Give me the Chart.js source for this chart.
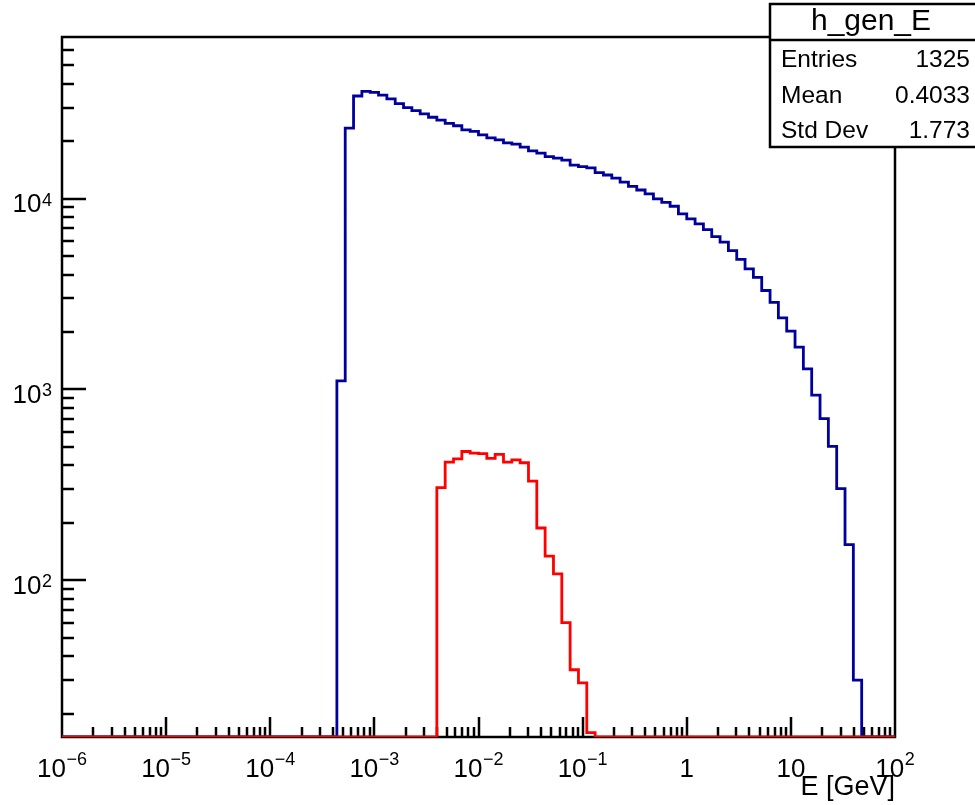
<!DOCTYPE html>
<html>
<head>
<meta charset="utf-8">
<script src="https://cdn.jsdelivr.net/npm/chart.js@4.4.1/dist/chart.umd.min.js"></script>
<style>
  html, body { margin: 0; padding: 0; background: #fff; }
  #wrap { width: 975px; height: 805px; }
</style>
</head>
<body>
<div id="wrap"><canvas id="histo" width="975" height="805"></canvas></div>
<script>
// histogram binning: 100 log bins from 1e-6 to 1e2 GeV
const nBins = 100;
const eMin = 1e-6;
const eMax = 1e2;

// bin contents (0 = empty bin)
const blueCounts = [
  0, 0, 0, 0, 0, 0, 0, 0, 0, 0,
  0, 0, 0, 0, 0, 0, 0, 0, 0, 0,
  0, 0, 0, 0, 0, 0, 0, 0, 0, 0,
  0, 0, 0, 1110, 23400, 34500, 36500, 36000, 34900, 33300,
  31500, 30000, 28900, 27800, 26700, 25800, 24800, 24100, 22900, 22500,
  21600, 20800, 20300, 19600, 19300, 18600, 17800, 17300, 16600, 16300,
  15900, 15000, 14700, 14500, 13700, 13300, 12800, 12200, 11600, 11100,
  10600, 9960, 9570, 9120, 8320, 7830, 7370, 6880, 6330, 5910,
  5340, 4800, 4290, 3870, 3300, 2860, 2370, 2020, 1665, 1283,
  935, 703, 503, 302, 154, 30, 0, 0, 0, 0
];
const redCounts = [
  0, 0, 0, 0, 0, 0, 0, 0, 0, 0,
  0, 0, 0, 0, 0, 0, 0, 0, 0, 0,
  0, 0, 0, 0, 0, 0, 0, 0, 0, 0,
  0, 0, 0, 0, 0, 0, 0, 0, 0, 0,
  0, 0, 0, 0, 0, 306, 416, 433, 473, 464,
  461, 435, 457, 416, 428, 413, 331, 188, 134, 108,
  60, 34, 29, 15.9, 0, 0, 0, 0, 0, 0,
  0, 0, 0, 0, 0, 0, 0, 0, 0, 0,
  0, 0, 0, 0, 0, 0, 0, 0, 0, 0,
  0, 0, 0, 0, 0, 0, 0, 0, 0, 0
];

// axis ranges and tick labels (base + exponent, ROOT style)
const yMin = 15.1;
const yMax = 70300;
const xTickValues = [1e-6, 1e-5, 1e-4, 1e-3, 1e-2, 1e-1, 1, 10, 100];
const xTickBase = ['10', '10', '10', '10', '10', '10', '1', '10', '10'];
const xTickExp = ['\u22126', '\u22125', '\u22124', '\u22123', '\u22122', '\u22121', '', '', '2'];
const yTickValues = [100, 1000, 10000];
const yTickBase = ['10', '10', '10'];
const yTickExp = ['2', '3', '4'];

const statsTitle = 'h_gen_E';
const statsNames = ['Entries', 'Mean', 'Std Dev'];
const statsValues = ['1325', '0.4033', '1.773'];

const FONT = '"Liberation Sans", Arial, Helvetica, sans-serif';

// bin edges (log spaced)
const edges = [];
for (let k = 0; k <= nBins; k++) {
  edges.push(Math.pow(10, Math.log10(eMin) + k * (Math.log10(eMax) - Math.log10(eMin)) / nBins));
}

// step points, empty bins sit on the axis floor like ROOT draws them
function toSteps(counts) {
  return edges.map((e, i) => {
    const v = counts[Math.min(i, nBins - 1)];
    return { x: e, y: v > 0 ? v : yMin };
  });
}

function isDrawnTick(v) {
  const ex = Math.floor(Math.log10(v) + 1e-9);
  const m = v / Math.pow(10, ex);
  return Math.abs(m - Math.round(m)) < 1e-4 && Math.round(m) >= 1 && Math.round(m) <= 9;
}
function isDecade(v) {
  return Math.abs(Math.log10(v) - Math.round(Math.log10(v))) < 1e-6;
}

// "10" with a raised exponent
function drawPow(ctx, base, exp, left, baseY, expY) {
  ctx.font = '26px ' + FONT;
  ctx.fillText(base, left, baseY);
  const wb = ctx.measureText(base).width;
  if (exp) {
    ctx.font = '18px ' + FONT;
    ctx.fillText(exp, left + wb + 0.5, expY);
  }
}
function powWidth(ctx, base, exp) {
  ctx.font = '26px ' + FONT;
  let w = ctx.measureText(base).width;
  if (exp) {
    ctx.font = '18px ' + FONT;
    w += ctx.measureText(exp).width + 0.5;
  }
  return w;
}

Chart.defaults.font.family = FONT;
Chart.defaults.color = '#000';

const rootFrame = {
  id: 'rootFrame',
  beforeDatasetsDraw(chart) {
    const ctx = chart.ctx;
    const a = chart.chartArea;
    const xs = chart.scales.x;
    const ys = chart.scales.y;
    ctx.save();
    ctx.strokeStyle = '#000';
    ctx.lineWidth = 2.5;
    ctx.strokeRect(a.left, a.top, a.right - a.left, a.bottom - a.top);
    ctx.lineWidth = 2.5;
    ctx.beginPath();
    xs.ticks.forEach(t => {
      if (!isDrawnTick(t.value)) return;
      const px = Math.round(xs.getPixelForValue(t.value));
      if (px <= a.left + 1 || px >= a.right - 1) return;
      const len = isDecade(t.value) ? 20 : 10;
      ctx.moveTo(px, a.bottom);
      ctx.lineTo(px, a.bottom - len);
    });
    ys.ticks.forEach(t => {
      if (!isDrawnTick(t.value)) return;
      const py = Math.round(ys.getPixelForValue(t.value));
      if (py <= a.top + 1 || py >= a.bottom - 1) return;
      const len = isDecade(t.value) ? 24 : 12;
      ctx.moveTo(a.left, py);
      ctx.lineTo(a.left + len, py);
    });
    ctx.stroke();

    // tick labels, placed through the scales
    ctx.fillStyle = '#000';
    ctx.textBaseline = 'alphabetic';
    ctx.textAlign = 'left';
    xTickValues.forEach((v, i) => {
      const px = xs.getPixelForValue(v);
      const w = powWidth(ctx, xTickBase[i], xTickExp[i]);
      drawPow(ctx, xTickBase[i], xTickExp[i], px - w / 2, a.bottom + 40, a.bottom + 28);
    });
    yTickValues.forEach((v, i) => {
      const py = ys.getPixelForValue(v);
      const w = powWidth(ctx, yTickBase[i], yTickExp[i]);
      drawPow(ctx, yTickBase[i], yTickExp[i], a.left - 10 - w, py + 13.5, py + 7);
    });
    ctx.restore();
  },
  afterDraw(chart) {
    // stats box
    const ctx = chart.ctx;
    const bx = 770, by = 4, bw = 210, bh = 143, sep = 40;
    ctx.save();
    ctx.fillStyle = '#fff';
    ctx.fillRect(bx, by, bw, bh);
    ctx.strokeStyle = '#000';
    ctx.lineWidth = 2.5;
    ctx.strokeRect(bx, by, bw, bh);
    ctx.beginPath();
    ctx.moveTo(bx, sep);
    ctx.lineTo(bx + bw, sep);
    ctx.stroke();
    ctx.fillStyle = '#000';
    ctx.textBaseline = 'middle';
    ctx.textAlign = 'center';
    ctx.font = '30px ' + FONT;
    ctx.fillText(statsTitle, 871, 22);
    ctx.font = '24.5px ' + FONT;
    const rowY = [60, 96, 131];
    statsNames.forEach((n, i) => {
      ctx.textAlign = 'left';
      ctx.fillText(n, 781, rowY[i]);
      ctx.textAlign = 'right';
      ctx.fillText(statsValues[i], 970, rowY[i]);
    });
    ctx.restore();
  }
};

new Chart(document.getElementById('histo'), {
  type: 'line',
  data: {
    datasets: [
      {
        label: 'blue',
        data: toSteps(blueCounts),
        borderColor: '#00009c',
        borderWidth: 2.8,
        stepped: true,
        pointRadius: 0,
        fill: false,
        order: 2
      },
      {
        label: 'red',
        data: toSteps(redCounts),
        borderColor: '#ff0000',
        borderWidth: 2.8,
        stepped: true,
        pointRadius: 0,
        fill: false,
        order: 1
      }
    ]
  },
  options: {
    responsive: false,
    animation: false,
    events: [],
    layout: { padding: { top: 37, right: 80, left: 0, bottom: 0 } },
    plugins: {
      legend: { display: false },
      tooltip: { enabled: false },
      title: { display: false }
    },
    scales: {
      x: {
        type: 'logarithmic',
        min: eMin,
        max: eMax,
        grid: { display: false, drawTicks: false },
        border: { display: false },
        ticks: { display: false, autoSkip: false },
        title: {
          display: true,
          text: 'E [GeV]',
          align: 'end',
          font: { size: 27 },
          padding: { top: 0, bottom: 1 }
        },
        afterFit: s => { s.height = 68; s.paddingLeft = 0; s.paddingRight = 0; }
      },
      y: {
        type: 'logarithmic',
        min: yMin,
        max: yMax,
        grid: { display: false, drawTicks: false },
        border: { display: false },
        ticks: { display: false, autoSkip: false },
        afterFit: s => { s.width = 62; s.paddingTop = 0; s.paddingBottom = 0; }
      }
    }
  },
  plugins: [rootFrame]
});
</script>
</body>
</html>
